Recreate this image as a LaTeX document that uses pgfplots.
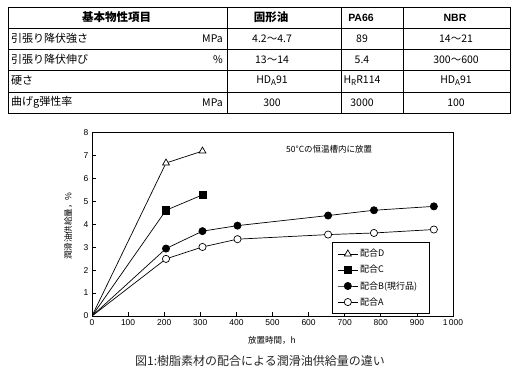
\documentclass[border=0pt]{standalone}
\usepackage{pgfplots}
\pgfplotsset{compat=1.18}
\usepackage{fontspec}
\setmainfont{Liberation Sans}
\newfontfamily\jp{Noto Sans CJK JP}
\begin{document}
\begin{tikzpicture}
\useasboundingbox (0,0) rectangle (518pt,-379pt);
\begin{scope}[x=1pt,y=-1pt]
% ---- table ----
\draw[line width=0.8pt] (8,7) rectangle (510,113);
\foreach \y in {28,49,70,92} \draw[line width=0.6pt] (8,\y) -- (510,\y);
\foreach \x in {227,341,403} \draw[line width=0.6pt] (\x,7) -- (\x,113);
\begin{scope}[every node/.style={font=\jp\fontsize{10.5}{12}\selectfont, inner sep=0pt}]
\node[font=\jp\bfseries\fontsize{11.5}{12}\selectfont] at (116.5,17.5) {基本物性項目};
\node[font=\jp\bfseries\fontsize{11.5}{12}\selectfont] at (271,17.5) {固形油};
\node[font=\bfseries\fontsize{10.5}{12}\selectfont] at (361,17.5) {PA66};
\node[font=\bfseries\fontsize{10.5}{12}\selectfont] at (455,17.5) {NBR};
\node[anchor=west,font=\jp\fontsize{11}{12}\selectfont] at (11,38.5) {引張り降伏強さ};
\node[anchor=west,font=\jp\fontsize{11}{12}\selectfont] at (11,59.5) {引張り降伏伸び};
\node[anchor=west,font=\jp\fontsize{11}{12}\selectfont] at (11,81) {硬さ};
\node[anchor=west,font=\jp\fontsize{11}{12}\selectfont] at (11,102.5) {曲げg弾性率};
\node[anchor=east] at (223,38.5) {MPa};
\node[anchor=east] at (223,59.5) {\%};
\node[anchor=east] at (223,102.5) {MPa};
\node at (272,38.5) {4.2〜4.7};
\node at (272,59.5) {13〜14};
\node at (272,81) {HD\raisebox{-0.35ex}{\fontsize{8}{8}\selectfont A}91};
\node at (272,102.5) {300};
\node at (362,38.5) {89};
\node at (362,59.5) {5.4};
\node at (362,81) {H\raisebox{-0.35ex}{\fontsize{8}{8}\selectfont R}R114};
\node at (362,102.5) {3000};
\node at (456,38.5) {14〜21};
\node at (456,59.5) {300〜600};
\node at (456,81) {HD\raisebox{-0.35ex}{\fontsize{8}{8}\selectfont A}91};
\node at (456,102.5) {100};
\end{scope}
% ---- annotation & caption ----
\node[anchor=west, inner sep=0pt, font=\jp\fontsize{8.5}{10}\selectfont] at (286,149) {50°Cの恒温槽内に放置};
\node[inner sep=0pt, font=\jp\fontsize{12}{13}\selectfont, text=black!85] at (260,361) {図1:樹脂素材の配合による潤滑油供給量の違い};
\end{scope}
\begin{axis}[
  at={(92pt,-316pt)}, anchor=south west,
  scale only axis, width=361pt, height=183.5pt,
  xmin=0, xmax=1000, ymin=0, ymax=8,
  xtick={0,100,...,1000},
  xticklabels={0,100,200,300,400,500,600,700,800,900,1\,000},
  ytick={0,1,...,8},
  /pgf/number format/assume math mode=true,
  tick align=inside, tick pos=left,
  major tick length=4pt,
  tick style={black, line width=0.7pt},
  axis line style={line width=0.8pt},
  tick label style={font=\fontsize{8.5}{9}\selectfont},
  xlabel={\jp 放置時間，h},
  xlabel style={at={(axis description cs:0.4986,-0.131)}, anchor=center, font=\fontsize{8.5}{10}\selectfont},
  ylabel={\jp 潤滑油供給量，\%},
  ylabel style={at={(axis description cs:-0.066,0.49)}, anchor=center, font=\fontsize{8.5}{10}\selectfont},
  legend style={at={(0.665,0.011)}, anchor=south west, draw=black, line width=0.8pt,
    font=\jp\fontsize{9}{10}\selectfont, row sep=3pt, inner ysep=5pt, inner xsep=5pt},
  legend cell align=left,
  legend image code/.code={\draw[#1, mark indices={2}] plot coordinates {(0pt,0pt) (10pt,0pt) (20pt,0pt)};},
]
\addplot[black, line width=0.7pt, mark=triangle*, mark indices={2,3}, mark size=4pt, mark options={fill=white, solid}]
  coordinates {(0,0) (205,6.67) (306,7.19)};
\addlegendentry{\makebox[62pt][l]{配合D}}
\addplot[black, line width=0.7pt, mark=square*, mark indices={2,3}, mark size=3.6pt, mark options={fill=black}]
  coordinates {(0,0) (205,4.61) (306,5.28)};
\addlegendentry{\makebox[62pt][l]{配合C}}
\addplot[black, line width=0.7pt, mark=*, mark indices={2,3,4,5,6,7}, mark size=3.6pt, mark options={fill=black}]
  coordinates {(0,0) (205,2.94) (306,3.70) (403,3.94) (654,4.38) (781,4.61) (947,4.78)};
\addlegendentry{\makebox[62pt][l]{配合B(現行品)}}
\addplot[black, line width=0.7pt, mark=*, mark indices={2,3,4,5,6,7}, mark size=3.6pt, mark options={fill=white}]
  coordinates {(0,0) (205,2.49) (306,3.01) (403,3.35) (654,3.55) (781,3.62) (947,3.77)};
\addlegendentry{\makebox[62pt][l]{配合A}}
\end{axis}
\end{tikzpicture}
\end{document}
